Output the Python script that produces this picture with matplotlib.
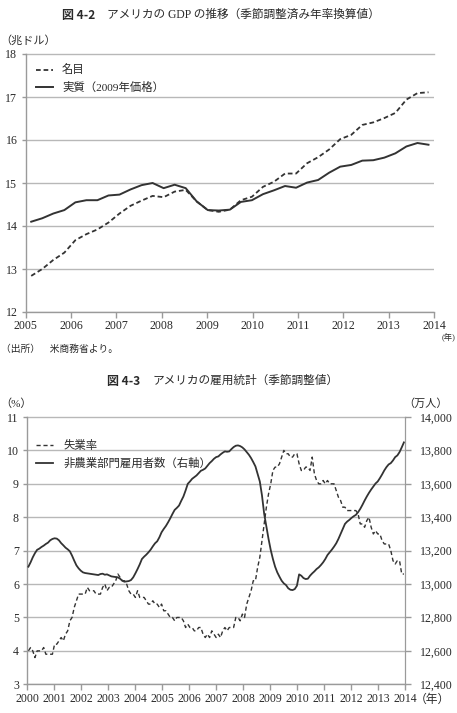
import matplotlib
matplotlib.use('Agg')
import matplotlib.pyplot as plt
import numpy as np
from matplotlib.ticker import FuncFormatter

plt.rcParams['font.family'] = ['Liberation Serif', 'Noto Sans CJK JP']
plt.rcParams['axes.unicode_minus'] = False

TXT = '#2a2a2a'
LINE = '#333333'
GRID = '#b8b8b8'
SPINE = '#9a9a9a'

# ---------------- Data: Fig 4-2 (quarterly, 2005Q1 - 2014Q1, trillion USD) -------------
gdp_year_labels = ['2005', '2006', '2007', '2008', '2009', '2010', '2011', '2012', '2013', '2014']
gdp_nominal = [12.84, 13.00, 13.21, 13.38, 13.67, 13.81, 13.92, 14.08,
               14.29, 14.47, 14.59, 14.70, 14.67, 14.80, 14.84, 14.57,
               14.37, 14.33, 14.38, 14.60, 14.68, 14.91, 15.03, 15.22,
               15.22, 15.46, 15.60, 15.78, 16.02, 16.12, 16.35, 16.41,
               16.51, 16.63, 16.94, 17.09, 17.11]
gdp_real = [14.10, 14.18, 14.29, 14.37, 14.55, 14.60, 14.60, 14.71,
            14.73, 14.85, 14.95, 15.00, 14.88, 14.96, 14.88, 14.57,
            14.37, 14.36, 14.38, 14.56, 14.60, 14.74, 14.83, 14.93,
            14.89, 15.01, 15.07, 15.24, 15.38, 15.42, 15.52, 15.53,
            15.59, 15.69, 15.85, 15.93, 15.89]
gdp_yticks = [12, 13, 14, 15, 16, 17, 18]

# ---------------- Data: Fig 4-3 (monthly, 2000/1 - 2014/5) -------------
emp_year_labels = ['2000', '2001', '2002', '2003', '2004', '2005', '2006', '2007',
                   '2008', '2009', '2010', '2011', '2012', '2013', '2014']
unemployment = [
    4.0, 4.1, 4.0, 3.8, 4.0, 4.0, 4.0, 4.1, 3.9, 3.9, 3.9, 3.9,   # 2000
    4.2, 4.2, 4.3, 4.4, 4.3, 4.5, 4.6, 4.9, 5.0, 5.3, 5.5, 5.7,   # 2001
    5.7, 5.7, 5.7, 5.9, 5.8, 5.8, 5.8, 5.7, 5.7, 5.7, 5.9, 6.0,   # 2002
    5.8, 5.9, 5.9, 6.0, 6.1, 6.3, 6.2, 6.1, 6.1, 6.0, 5.8, 5.7,   # 2003
    5.7, 5.6, 5.8, 5.6, 5.6, 5.6, 5.5, 5.4, 5.4, 5.5, 5.4, 5.4,   # 2004
    5.3, 5.4, 5.2, 5.2, 5.1, 5.0, 5.0, 4.9, 5.0, 5.0, 5.0, 4.9,   # 2005
    4.7, 4.8, 4.7, 4.7, 4.6, 4.6, 4.7, 4.7, 4.5, 4.4, 4.5, 4.4,   # 2006
    4.6, 4.5, 4.4, 4.5, 4.4, 4.6, 4.7, 4.6, 4.7, 4.7, 4.7, 5.0,   # 2007
    5.0, 4.9, 5.1, 5.0, 5.4, 5.6, 5.8, 6.1, 6.1, 6.5, 6.8, 7.3,   # 2008
    7.8, 8.3, 8.7, 9.0, 9.4, 9.5, 9.5, 9.6, 9.8, 10.0, 9.9, 9.9,  # 2009
    9.8, 9.8, 9.9, 9.9, 9.6, 9.4, 9.4, 9.5, 9.5, 9.4, 9.8, 9.3,   # 2010
    9.1, 9.0, 9.0, 9.1, 9.0, 9.1, 9.0, 9.0, 9.0, 8.8, 8.6, 8.5,   # 2011
    8.3, 8.3, 8.2, 8.2, 8.2, 8.2, 8.2, 8.1, 7.8, 7.8, 7.7, 7.9,   # 2012
    8.0, 7.7, 7.5, 7.6, 7.5, 7.5, 7.3, 7.2, 7.2, 7.2, 7.0, 6.7,   # 2013
    6.6, 6.7, 6.7, 6.3, 6.3]                                      # 2014
payrolls = [
    13104, 13130, 13160, 13185, 13205, 13212, 13222, 13230, 13240, 13248, 13262, 13270,  # 2000
    13274, 13272, 13262, 13245, 13232, 13218, 13208, 13196, 13170, 13140, 13112, 13094,  # 2001
    13080, 13070, 13066, 13064, 13062, 13060, 13058, 13056, 13054, 13060, 13062, 13056,  # 2002
    13058, 13052, 13046, 13044, 13042, 13040, 13032, 13020, 13014, 13016, 13018, 13024,  # 2003
    13040, 13064, 13090, 13118, 13150, 13164, 13176, 13190, 13206, 13226, 13244, 13256,  # 2004
    13280, 13310, 13330, 13348, 13370, 13394, 13420, 13444, 13456, 13470, 13498, 13524,  # 2005
    13560, 13600, 13614, 13630, 13640, 13650, 13664, 13678, 13684, 13692, 13708, 13724,  # 2006
    13736, 13750, 13760, 13764, 13776, 13786, 13794, 13792, 13794, 13808, 13820, 13828,  # 2007
    13830, 13826, 13818, 13806, 13790, 13774, 13754, 13730, 13704, 13660, 13614, 13530,  # 2008
    13420, 13344, 13270, 13204, 13150, 13104, 13070, 13044, 13020, 13004, 12994, 12975,  # 2009
    12966, 12964, 12970, 12990, 13058, 13050, 13036, 13030, 13032, 13050, 13064, 13076,  # 2010
    13090, 13100, 13114, 13130, 13150, 13174, 13190, 13206, 13224, 13244, 13270, 13300,  # 2011
    13330, 13360, 13374, 13384, 13396, 13406, 13414, 13430, 13450, 13474, 13500, 13524,  # 2012
    13546, 13566, 13584, 13602, 13614, 13634, 13656, 13680, 13700, 13716, 13724, 13740,  # 2013
    13760, 13770, 13790, 13818, 13848]                                                  # 2014
emp_left_ticks = [3, 4, 5, 6, 7, 8, 9, 10, 11]
emp_right_ticks = [12400, 12600, 12800, 13000, 13200, 13400, 13600, 13800, 14000]

W, H = 457, 713
fig = plt.figure(figsize=(W / 100, H / 100), dpi=100)
fig.patch.set_facecolor('white')

def fx(px):
    return px / W

def fy(py):
    return 1 - py / H

TICKFS = 8.6
JPFS = 8.2

def style_axis(ax):
    for s in ['top', 'right']:
        ax.spines[s].set_visible(False)
    for s in ['left', 'bottom']:
        ax.spines[s].set_color(SPINE)
        ax.spines[s].set_linewidth(1.0)
    ax.yaxis.grid(True, color=GRID, lw=1.0)
    ax.set_axisbelow(True)
    ax.tick_params(axis='both', colors=SPINE, labelcolor=TXT, labelsize=TICKFS,
                   direction='out', width=1.0)
    ax.tick_params(axis='x', length=4, pad=2)
    ax.tick_params(axis='y', length=3, pad=3)

# ---------------- Top chart ----------------
ax1 = fig.add_axes([fx(25.7), fy(312), fx(434) - fx(25.7), fy(54) - fy(312)])
style_axis(ax1)
n1 = len(gdp_nominal)
xq = np.arange(n1) + 0.5
ax1.plot(xq, gdp_nominal, color=LINE, lw=1.3, linestyle=(0, (2.6, 1.6)), label='名目')
ax1.plot(xq, gdp_real, color=LINE, lw=1.4, label='実質（2009年価格）')
ax1.set_xlim(0, n1)
ax1.set_ylim(12, 18)
ax1.set_yticks(gdp_yticks)
ax1.set_xticks(np.linspace(0, n1, len(gdp_year_labels)))
ax1.set_xticklabels(gdp_year_labels)
ax1.yaxis.get_gridlines()[-1].set_clip_on(False)
leg1 = ax1.legend(loc='upper left', bbox_to_anchor=(0.008, 0.985), frameon=False,
                  fontsize=JPFS, handlelength=1.5, handletextpad=0.8, labelspacing=0.55,
                  borderaxespad=0.2)
for t in leg1.get_texts():
    t.set_color(TXT)

fig.text(fx(62), fy(15), '図 4-2', fontsize=8.6, fontweight='bold', color=TXT,
         va='center', ha='left', family=['Noto Sans CJK JP'])
fig.text(fx(107), fy(15), 'アメリカの GDP の推移（季節調整済み年率換算値）', fontsize=8.4,
         color=TXT, va='center', ha='left', family=['Liberation Serif', 'Noto Sans CJK JP'])
fig.text(fx(0), fy(40), '（兆ドル）', fontsize=8.0, color=TXT, va='center', ha='left')
fig.text(fx(456), fy(337), '(年)', fontsize=6.0, color=TXT, va='center', ha='right')
fig.text(fx(1), fy(349), '（出所）　米商務省より。', fontsize=7.0, color=TXT, va='center', ha='left')

# ---------------- Bottom chart ----------------
ax2 = fig.add_axes([fx(27.3), fy(684.3), fx(405) - fx(27.3), fy(417) - fy(684.3)])
style_axis(ax2)
ax2.spines['right'].set_visible(True)
ax2.spines['right'].set_color(SPINE)
n2 = len(unemployment)
xm = np.arange(n2) + 0.5
ax2.set_xlim(0, n2)
ax2.set_ylim(3, 11)
ax2.set_yticks(emp_left_ticks)
ax2.set_xticks(np.linspace(0, n2, len(emp_year_labels)))
ax2.set_xticklabels(emp_year_labels)
ax2.tick_params(axis='x', labelsize=8.5)
ax2.yaxis.get_gridlines()[-1].set_clip_on(False)
ax2.plot(xm, unemployment, color=LINE, lw=1.0, linestyle=(0, (3.0, 2.0)), label='失業率')

ax3 = ax2.twinx()
for s in ['top', 'left', 'bottom']:
    ax3.spines[s].set_visible(False)
ax3.spines['right'].set_color(SPINE)
ax3.set_ylim(12400, 14000)
ax3.set_yticks(emp_right_ticks)
ax3.yaxis.set_major_formatter(FuncFormatter(lambda v, p: f'{int(v):,}'))
ax3.tick_params(axis='y', colors=SPINE, labelcolor=TXT, labelsize=TICKFS,
                direction='out', length=4, width=1.0, pad=7)
ax3.plot(xm, payrolls, color=LINE, lw=1.3, label='非農業部門雇用者数（右軸）')

h1, l1 = ax2.get_legend_handles_labels()
h2, l2 = ax3.get_legend_handles_labels()
leg2 = ax3.legend(h1 + h2, l1 + l2, loc='upper left', bbox_to_anchor=(0.005, 0.94),
                  frameon=False, fontsize=JPFS, handlelength=1.5, handletextpad=0.9,
                  labelspacing=0.6, borderaxespad=0.2)
for t in leg2.get_texts():
    t.set_color(TXT)

fig.text(fx(107), fy(381), '図 4-3', fontsize=8.6, fontweight='bold', color=TXT,
         va='center', ha='left', family=['Noto Sans CJK JP'])
fig.text(fx(152), fy(381), 'アメリカの雇用統計（季節調整値）', fontsize=8.4,
         color=TXT, va='center', ha='left')
fig.text(fx(0), fy(404), '（%）', fontsize=8.0, color=TXT, va='center', ha='left')
fig.text(fx(448), fy(404), '（万人）', fontsize=8.0, color=TXT, va='center', ha='right')
fig.text(fx(415), fy(700), '（年）', fontsize=8.5, color=TXT, va='center', ha='left')

fig.savefig('out.png', dpi=100, facecolor='white')
